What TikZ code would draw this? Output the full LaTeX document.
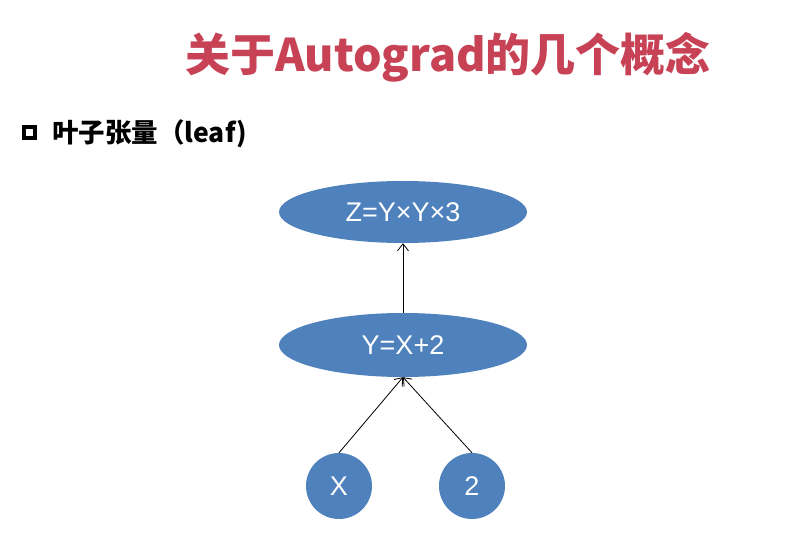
\documentclass[tikz,border=0pt]{standalone}
\usepackage{fontspec}
\setmainfont{Liberation Sans}
\newfontfamily\cjk{Noto Sans CJK SC}
\usetikzlibrary{arrows.meta,shapes.geometric}
\definecolor{titlered}{RGB}{200,66,86}
\definecolor{nodeblue}{RGB}{79,129,189}
\tikzset{
  opnode/.style={ellipse, fill=nodeblue, draw=none, minimum width=248pt, minimum height=62pt, inner sep=0pt, text=white, font=\fontsize{27}{30}\selectfont},
  leafnode/.style={circle, fill=nodeblue, draw=none, minimum size=66pt, inner sep=0pt, text=white, font=\fontsize{27}{30}\selectfont},
  edge/.style={draw=black, line width=0.8pt, -{Straight Barb[length=7pt,width=11pt,line width=0.8pt]}}
}
\begin{document}
\begin{tikzpicture}[x=1pt,y=-1pt]
\useasboundingbox (0,0) rectangle (801,540);
\fill[white] (0,0) rectangle (801,540);
\node[text=titlered, font=\cjk\bfseries\fontsize{45}{50}\selectfont, inner sep=0pt] (title) at (448,57.5) {关于Autograd的几个概念};
\node[draw=black, line width=4pt, minimum size=11.5pt, inner sep=0pt] (bullet) at (29.5,132.5) {};
\node[anchor=west, font=\cjk\bfseries\fontsize{26.5}{30}\selectfont, inner sep=0pt] (sub) at (52,134) {叶子张量（leaf)};
\node[opnode] (z) at (403,212) {Z=Y×Y×3};
\node[opnode, minimum height=64pt] (y) at (403,345) {Y=X+2};
\node[leafnode] (x) at (339,486) {X};
\node[leafnode] (two) at (472,486) {2};
\draw[edge] (y) -- (z);
\draw[edge] (x.north) -- (y.south);
\draw[edge] (two.north) -- (y.south);
\end{tikzpicture}
\end{document}
